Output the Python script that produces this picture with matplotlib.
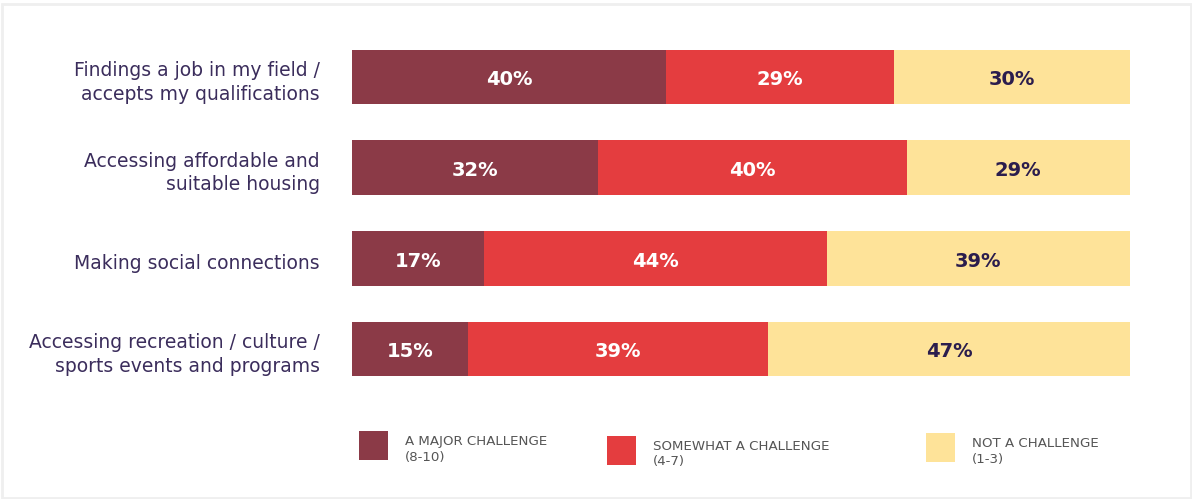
import numpy as np
import matplotlib.pyplot as plt
from matplotlib.patches import Rectangle

plt.rcParams['font.family'] = ['DejaVu Sans']

# Survey data
categories = [
    'Findings a job in my field /\naccepts my qualifications',
    'Accessing affordable and\nsuitable housing',
    'Making social connections',
    'Accessing recreation / culture /\nsports events and programs',
]
major = [40, 32, 17, 15]
somewhat = [29, 40, 44, 39]
not_challenge = [30, 29, 39, 47]

series_names = ['A MAJOR CHALLENGE\n(8-10)', 'SOMEWHAT A CHALLENGE\n(4-7)', 'NOT A CHALLENGE\n(1-3)']
colors = ['#8b3a47', '#e43d3f', '#fee399']
value_colors = ['white', 'white', '#2b1d4d']
label_color = '#3b2d5c'

W, H = 1192, 499
fig = plt.figure(figsize=(W / 100, H / 100), dpi=100)

# axes placed in pixel coordinates
x0, x1 = 352, 1130
y_top, y_bot = 31.5, 394.5
ax = fig.add_axes([x0 / W, 1 - y_bot / H, (x1 - x0) / W, (y_bot - y_top) / H])

# each row is scaled to fill the full bar width
data = np.array([major, somewhat, not_challenge], dtype=float)
totals = data.sum(axis=0)
shares = data / totals * 100
y = np.arange(len(categories))
left = np.zeros(len(categories))
for i in range(3):
    ax.barh(y, shares[i], left=left, height=0.6, color=colors[i], linewidth=0)
    for j in range(len(categories)):
        ax.text(left[j] + shares[i][j] / 2, y[j] + 0.03, f'{int(data[i][j])}%',
                ha='center', va='center', fontsize=14, fontweight='bold',
                color=value_colors[i])
    left += shares[i]

ax.set_xlim(0, 100)
ax.set_ylim(len(categories) - 0.5, -0.5)
ax.axis('off')

for j, cat in enumerate(categories):
    ax.text(-4.1, y[j] + 0.06, cat, ha='right', va='center', fontsize=13.5,
            color=label_color, linespacing=1.3)

# legend drawn by hand
leg_x = [359, 607, 926]
leg_y = [431, 436, 433]
for i in range(3):
    fig.patches.append(Rectangle((leg_x[i] / W, 1 - (leg_y[i] + 29) / H), 29 / W, 29 / H,
                                 transform=fig.transFigure, color=colors[i], linewidth=0))
    fig.text((leg_x[i] + 46) / W, 1 - (leg_y[i] + 4) / H, series_names[i],
             ha='left', va='top', fontsize=9.6, color='#555555', linespacing=1.25)

# light frame around the figure
fig.patches.append(Rectangle((1.5 / W, 1.5 / H), (W - 3) / W, (H - 5) / H,
                             transform=fig.transFigure, fill=False,
                             edgecolor='#efefef', linewidth=2))

fig.savefig('out.png', dpi=100, facecolor='white')
